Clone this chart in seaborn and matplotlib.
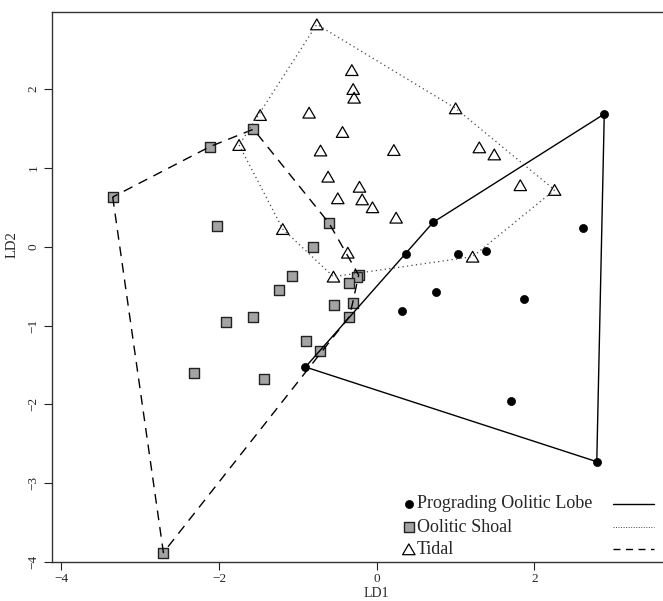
import numpy as np
import pandas as pd
import seaborn as sns
import matplotlib.pyplot as plt
from matplotlib.path import Path

# LD scores
lobe_ld1 = [2.885, 2.62, 1.39, 1.03, 0.372, 0.715, 0.749, 0.317, 1.865, 1.70, 2.79, -0.905]
lobe_ld2 = [1.683, 0.24, -0.05, -0.097, -0.093, 0.31, -0.575, -0.82, -0.66, -1.96, -2.727, -1.526]

shoal_ld1 = [-1.565, -2.115, -3.35, -2.03, -0.605, -0.808, -1.08, -0.23, -0.25, -0.347,
             -1.235, -0.542, -0.308, -0.351, -1.565, -0.90, -0.72, -1.43, -1.916, -2.314, -2.707]
shoal_ld2 = [1.49, 1.27, 0.63, 0.26, 0.297, 0.0, -0.37, -0.36, -0.38, -0.457,
             -0.553, -0.74, -0.72, -0.89, -0.89, -1.19, -1.327, -1.674, -0.96, -1.60, -3.88]

tidal_ld1 = [-0.761, -0.317, -0.30, -0.288, -1.48, -0.859, 1.00, -0.435, -1.747, -0.714,
             0.216, 1.30, 1.49, -0.618, -0.22, 1.82, 2.255, -0.495, -0.186, -0.055,
             0.245, -1.193, -0.368, 1.215, -0.55]
tidal_ld2 = [2.82, 2.24, 2.00, 1.89, 1.67, 1.70, 1.755, 1.455, 1.29, 1.22,
             1.226, 1.26, 1.17, 0.888, 0.76, 0.78, 0.72, 0.614, 0.60, 0.50,
             0.368, 0.224, -0.076, -0.127, -0.38]

groups = ["Prograding Oolitic Lobe", "Oolitic Shoal", "Tidal"]
x_ticks = [-4, -2, 0, 2]
y_ticks = [-4, -3, -2, -1, 0, 1, 2]

df = pd.concat([
    pd.DataFrame({"LD1": lobe_ld1, "LD2": lobe_ld2, "group": groups[0]}),
    pd.DataFrame({"LD1": shoal_ld1, "LD2": shoal_ld2, "group": groups[1]}),
    pd.DataFrame({"LD1": tidal_ld1, "LD2": tidal_ld2, "group": groups[2]}),
])


def hull(pts):
    """monotone chain convex hull, returned closed"""
    pts = sorted(set(map(tuple, pts)))
    def cross(o, a, b):
        return (a[0]-o[0])*(b[1]-o[1]) - (a[1]-o[1])*(b[0]-o[0])
    lower, upper = [], []
    for p in pts:
        while len(lower) >= 2 and cross(lower[-2], lower[-1], p) <= 0:
            lower.pop()
        lower.append(p)
    for p in reversed(pts):
        while len(upper) >= 2 and cross(upper[-2], upper[-1], p) <= 0:
            upper.pop()
        upper.append(p)
    h = lower[:-1] + upper[:-1]
    h.append(h[0])
    return np.array(h)


sns.set_style("white")
plt.rcParams["font.family"] = ["Liberation Serif", "DejaVu Serif"]

fig = plt.figure(figsize=(6.63, 6.01), dpi=100)
ax = fig.add_axes([52/663, 38.7/601, 611/663, 550.3/601])

tri = Path([(-1, -0.866), (1, -0.866), (0, 0.866), (-1, -0.866)],
           [Path.MOVETO, Path.LINETO, Path.LINETO, Path.CLOSEPOLY])

styles = {
    groups[0]: dict(marker="o", s=34, color="black", edgecolor="black", linewidth=0.5),
    groups[1]: dict(marker="s", s=56, color="#a3a3a3", edgecolor="#222222", linewidth=1.0),
    groups[2]: dict(marker=tri, s=80, color="none", edgecolor="black", linewidth=0.9),
}
hull_ls = {
    groups[0]: dict(ls="-", lw=1.0, color="black"),
    groups[1]: dict(ls=(0, (7, 5)), lw=1.0, color="black"),
    groups[2]: dict(ls=(0, (1, 2.6)), lw=0.9, color="#444444"),
}

for g in groups:
    sub = df[df.group == g]
    sns.scatterplot(data=sub, x="LD1", y="LD2", ax=ax, legend=False, zorder=2, **styles[g])
    h = hull(sub[["LD1", "LD2"]].values)
    ax.plot(h[:, 0], h[:, 1], zorder=3, **hull_ls[g])

ax.set_xlim(-4.12, 3.63)
ax.set_ylim(-4.003, 2.977)
ax.set_xticks(x_ticks)
ax.set_yticks(y_ticks)
ax.tick_params(axis="both", direction="out", length=6, width=0.8, labelsize=9.5,
               color="#222222", bottom=True, left=True)
ax.tick_params(axis="x", pad=1.5)
ax.tick_params(axis="y", pad=3, labelrotation=90)
for lab in ax.get_yticklabels():
    lab.set_va("center")

for side in ["left", "bottom", "top"]:
    ax.spines[side].set_color("#333333")
    ax.spines[side].set_linewidth(1.0)
ax.spines["right"].set_visible(False)

ax.set_xlabel("LD1", fontsize=10, labelpad=0)
ax.set_ylabel("LD2", fontsize=10.5, labelpad=0)
ax.xaxis.set_label_coords(0.530, -0.045)
ax.yaxis.set_label_coords(-0.055, 0.578)

# legend: marker, text, then line sample
rows = [0.106, 0.0634, 0.0236]
leg_lines = [dict(ls="-", lw=1.0, color="black"),
             dict(ls=(0, (1, 1.6)), lw=0.7, color="#444444"),
             dict(ls=(0, (5, 4)), lw=1.0, color="black")]
for g, yy, ll in zip(groups, rows, leg_lines):
    st = dict(styles[g])
    ax.scatter([0.584], [yy], transform=ax.transAxes, clip_on=False, zorder=4,
               marker=st["marker"], s=st["s"], c=st["color"], edgecolors=st["edgecolor"],
               linewidths=st["linewidth"])
    ax.text(0.597, yy, g, transform=ax.transAxes, fontsize=13, va="center", ha="left")
    ax.plot([0.918, 0.986], [yy, yy], transform=ax.transAxes, **ll)

fig.savefig("out.png", dpi=100)
